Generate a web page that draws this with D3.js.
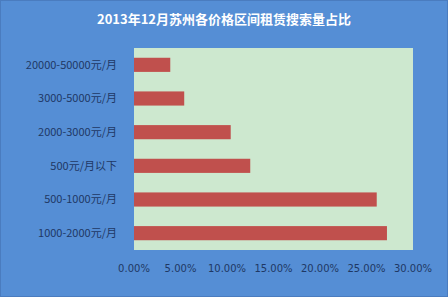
<!DOCTYPE html>
<html>
<head>
<meta charset="utf-8">
<script src="https://cdn.jsdelivr.net/npm/d3@7"></script>
<style>
  html, body { margin: 0; padding: 0; background: #558ed5; }
  svg { display: block; }
</style>
</head>
<body>
<svg id="chart"></svg>
<script>
// データ
const categories = ["20000-50000元/月", "3000-5000元/月", "2000-3000元/月", "500元/月以下", "500-1000元/月", "1000-2000元/月"];
const shares = [0.039, 0.054, 0.104, 0.125, 0.261, 0.272];
const tickValues = [0, 0.05, 0.10, 0.15, 0.20, 0.25, 0.30];
const title = "2013年12月苏州各价格区间租赁搜索量占比";

const width = 448, height = 297;
const margin = { top: 48, right: 35, bottom: 47, left: 134 };

const svg = d3.select("#chart")
    .attr("width", width)
    .attr("height", height);

// 背景
svg.append("rect")
    .attr("width", width).attr("height", height)
    .attr("fill", "#558ed5");
svg.append("rect")
    .attr("x", 0.5).attr("y", 0.5)
    .attr("width", width - 1).attr("height", height - 1)
    .attr("fill", "none").attr("stroke", "#4a7cbf");

const x = d3.scaleLinear()
    .domain([0, 0.30])
    .range([margin.left, width - margin.right]);

const y = d3.scaleBand()
    .domain(categories)
    .range([margin.top, height - margin.bottom])
    .paddingInner(0.58)
    .paddingOuter(0.29);

// プロット領域
svg.append("rect")
    .attr("x", margin.left).attr("y", margin.top)
    .attr("width", x.range()[1] - margin.left)
    .attr("height", height - margin.bottom - margin.top)
    .attr("fill", "#cde8cf");

// バー
svg.append("g")
    .selectAll("rect")
    .data(categories)
    .join("rect")
    .attr("x", x(0))
    .attr("y", d => y(d))
    .attr("width", (d, i) => x(shares[i]) - x(0))
    .attr("height", y.bandwidth())
    .attr("fill", "#c0504d");

// タイトル
svg.append("text")
    .attr("x", width / 2)
    .attr("y", 24)
    .attr("text-anchor", "middle")
    .attr("fill", "#ffffff")
    .style("font", "bold 13px 'Noto Sans CJK SC', sans-serif")
    .text(title);

// y軸ラベル
svg.append("g")
    .selectAll("text")
    .data(categories)
    .join("text")
    .attr("x", 117)
    .attr("y", d => y(d) + y.bandwidth() / 2)
    .attr("dy", "0.35em")
    .attr("text-anchor", "end")
    .attr("fill", "#1f3864")
    .style("font", "11px 'Noto Sans CJK SC', sans-serif")
    .text(d => d);

// x軸ラベル
const fmt = d3.format(".2%");
svg.append("g")
    .selectAll("text")
    .data(tickValues)
    .join("text")
    .attr("x", d => x(d))
    .attr("y", 272)
    .attr("text-anchor", "middle")
    .attr("fill", "#1f3864")
    .style("font", "10px 'DejaVu Sans', sans-serif")
    .text(d => fmt(d));
</script>
</body>
</html>
